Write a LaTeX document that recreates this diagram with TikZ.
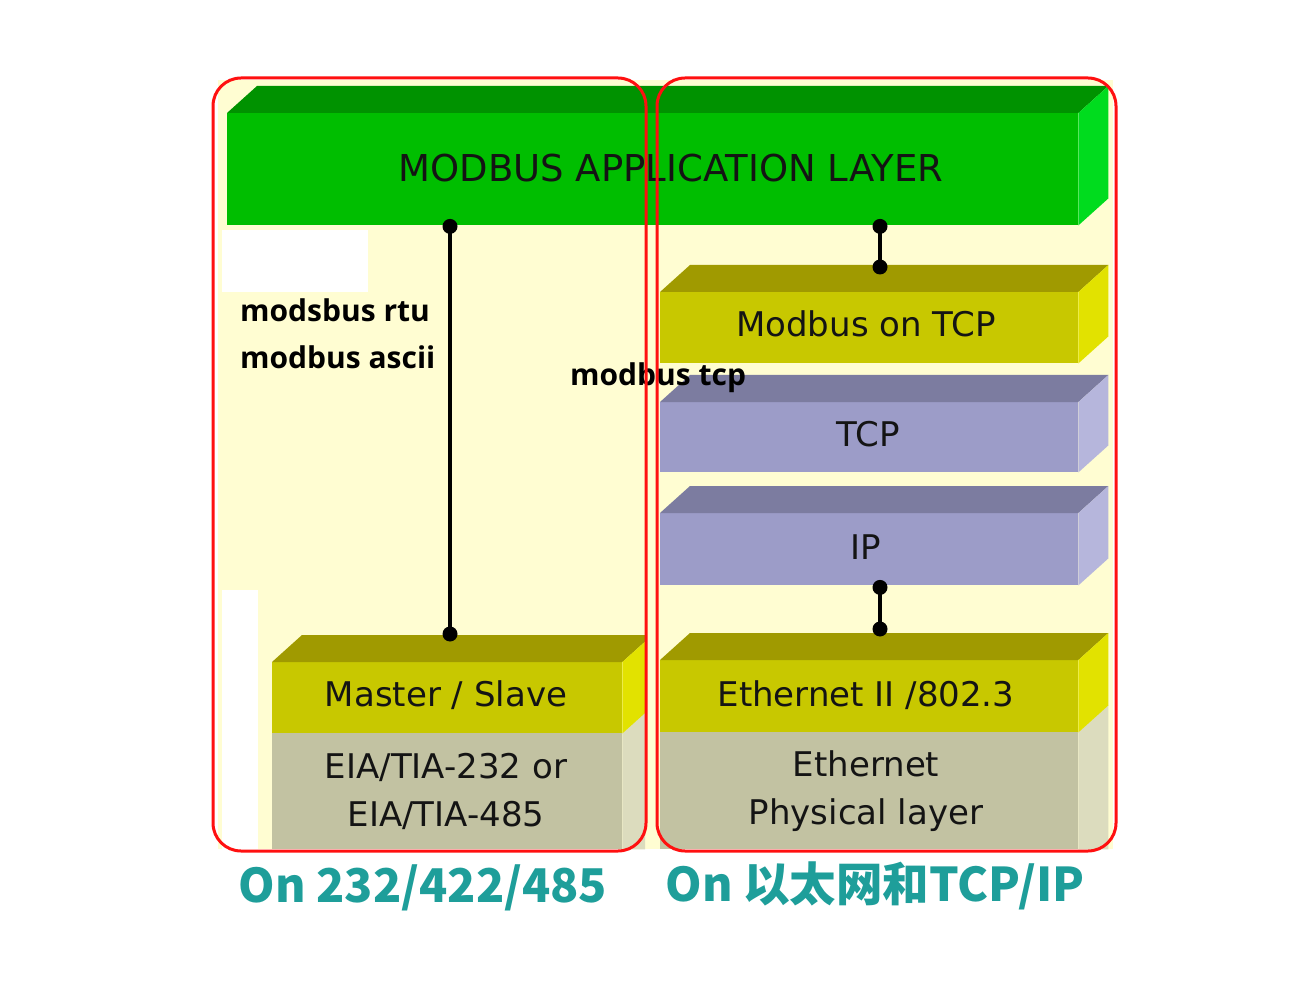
\documentclass[tikz,border=0pt]{standalone}
\usepackage{fontspec}
\setmainfont{Open Sans}
\newfontfamily\boxfont{DejaVu Sans}
\newfontfamily\cjkfont{Noto Sans CJK SC}
\usetikzlibrary{calc}
\definecolor{cream}{HTML}{FFFDD2}
\definecolor{gfront}{HTML}{00BE00}
\definecolor{gtop}{HTML}{009200}
\definecolor{gside}{HTML}{00DC1E}
\definecolor{yfront}{HTML}{C8C800}
\definecolor{ytop}{HTML}{A09A00}
\definecolor{yside}{HTML}{E2E200}
\definecolor{lfront}{HTML}{9C9CC8}
\definecolor{ltop}{HTML}{7C7CA0}
\definecolor{lside}{HTML}{B6B6DC}
\definecolor{pfront}{HTML}{C2C2A2}
\definecolor{pside}{HTML}{DCDCBE}
\definecolor{teal}{HTML}{1E9E9A}
\definecolor{frame}{HTML}{FF1010}
\newcommand\cubefaces[3]{%
  \fill[#2] (#1.north west) -- ++(30,-27) -- ($(#1.north east)+(30,-27)$) -- (#1.north east) -- cycle;
  \fill[#3] (#1.north east) -- ++(30,-27) -- ($(#1.south east)+(30,-27)$) -- (#1.south east) -- cycle;}
\newcommand\basefaces[2]{%
  \fill[#2] (#1.north east) -- ++(30,-27) -- ($(#1.south east)+(30,0)$) -- (#1.south east) -- cycle;}
\tikzset{
  face/.style={rectangle, inner sep=0pt, anchor=north west},
  boxtext/.style={font=\boxfont\fontsize{34}{48}\selectfont, align=center, text=black!92, inner sep=0pt},
  conn/.style={line width=3.2pt, black},
  dot/.style={circle, fill=black, inner sep=0pt, minimum size=15pt},
  note/.style={font=\bfseries\fontsize{30}{36}\selectfont, anchor=west, inner sep=0pt},
  caption/.style={font=\cjkfont\bfseries\fontsize{46.5}{56}\selectfont, text=teal, inner sep=0pt},
  region/.style={draw=frame, line width=3pt, rounded corners=28pt}
}
\begin{document}
\begin{tikzpicture}[x=1pt,y=-1pt]
\useasboundingbox (0,0) rectangle (1307,984);
\fill[white] (0,0) rectangle (1307,984);
\fill[cream] (218,80) rectangle (1113,849);
\fill[white] (222,230) rectangle (368,292);
\fill[white] (222,590) rectangle (258,849);

% application layer
\node[face, fill=gfront, minimum width=851, minimum height=112] (app) at (227,113) {};
\cubefaces{app}{gtop}{gside}
\node[boxtext, font=\boxfont\fontsize{37}{42}\selectfont] (applbl) at (671,168) {MODBUS APPLICATION LAYER};

% left column
\begin{scope}
\clip (0,0) rectangle (645,984);
\node[face, fill=pfront, minimum width=350, minimum height=116] (msphy) at (272,733) {};
\basefaces{msphy}{pside}
\node[face, fill=yfront, minimum width=350, minimum height=71] (ms) at (272,662) {};
\cubefaces{ms}{ytop}{yside}
\end{scope}
\node[boxtext] (mslbl) at (446,695) {Master / Slave};
\node[boxtext] (msphylbl) at (446,791) {EIA/TIA-232 or\\EIA/TIA-485};

% right column
\node[face, fill=yfront, minimum width=418, minimum height=71] (mtcp) at (660,292) {};
\cubefaces{mtcp}{ytop}{yside}
\node[boxtext] (mtcplbl) at (866,324) {Modbus on TCP};
\node[face, fill=lfront, minimum width=418, minimum height=70] (tcp) at (660,402) {};
\cubefaces{tcp}{ltop}{lside}
\node[boxtext] (tcplbl) at (868,434) {TCP};
\node[face, fill=lfront, minimum width=418, minimum height=72] (ip) at (660,513) {};
\cubefaces{ip}{ltop}{lside}
\node[boxtext] (iplbl) at (866,547) {IP};
\node[face, fill=pfront, minimum width=418, minimum height=117] (ephy) at (660,732) {};
\basefaces{ephy}{pside}
\node[face, fill=yfront, minimum width=418, minimum height=72] (eth) at (660,660) {};
\cubefaces{eth}{ytop}{yside}
\node[boxtext] (ethlbl) at (866,695) {Ethernet II /802.3};
\node[boxtext] (ephylbl) at (866,791) {Ethernet\\Physical layer};

% connectors
\node[dot] (d1) at ($(app.south west)+(223,1)$) {};
\node[dot] (d2) at ($(ms.north west)+(178,-28)$) {};
\draw[conn] (d1.center) -- (d2.center);
\node[dot] (d3) at ($(app.south west)+(653,1)$) {};
\node[dot] (d4) at ($(mtcp.north west)+(220,-25)$) {};
\draw[conn] (d3.center) -- (d4.center);
\node[dot] (d5) at ($(ip.south west)+(220,2)$) {};
\node[dot] (d6) at ($(eth.north west)+(220,-31)$) {};
\draw[conn] (d5.center) -- (d6.center);

% notes
\node[note] (n1) at (240,310) {modsbus rtu};
\node[note] (n2) at (240,357) {modbus ascii};
\node[note] (n3) at (570,378) {modbus tcp};

% regions
\draw[region] (213,78) rectangle (646,851);
\draw[region] (657,78) rectangle (1116,851);

% captions
\node[caption] (c1) at (423,888) {On 232/422/485};
\node[caption] (c2) at (875,886) {On 以太网和TCP/IP};
\end{tikzpicture}
\end{document}
